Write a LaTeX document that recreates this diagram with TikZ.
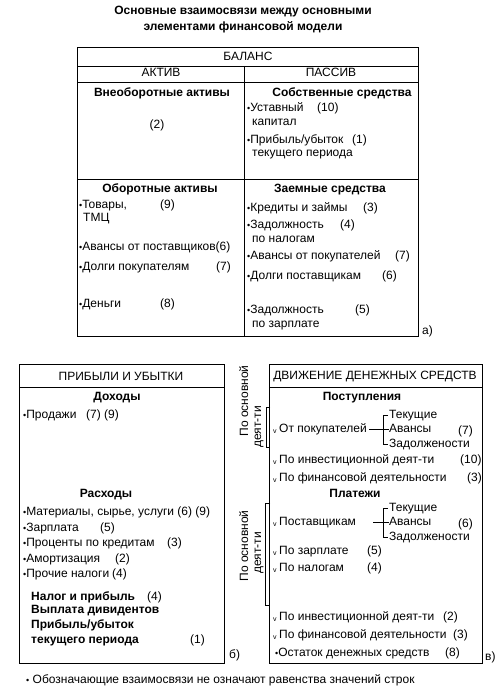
\documentclass[tikz,border=0pt]{standalone}
\usepackage{fontspec}
\setmainfont{Liberation Sans}
\newcommand\bodysize{\fontsize{12}{14}\selectfont}
\newcommand\bul{{\small•}}
\begin{document}
\begin{tikzpicture}[x=1pt,y=-1pt,
  box/.style={draw=black, line width=0.9pt},
  sep/.style={draw=black, line width=0.8pt},
  t/.style={anchor=west, inner sep=0pt, font=\bodysize, text height=8.5pt, text depth=2.5pt},
  tc/.style={t, anchor=center},
  hb/.style={tc, font=\bodysize\bfseries},
  tb/.style={t, font=\bodysize\bfseries},
  ck/.style={t, font=\scriptsize},
  num/.style={t, text height=8pt, text depth=1pt},
  rot/.style={tc, rotate=90},
  br/.style={draw=black, line width=0.6pt}]
\useasboundingbox (0,0) rectangle (500,693);
% title
\node[hb] (title1) at (243,12) {Основные взаимосвязи между основными};
\node[hb] (title2) at (243,28) {элементами финансовой модели};
% ---------- balance ----------
\draw[box] (77,47) rectangle (418,336);
\draw[sep] (77,66) -- (418,66);
\draw[sep] (77,82) -- (418,82);
\draw[sep] (244,66) -- (244,336);
\draw[sep] (77,179) -- (418,179);
\node[tc] (bal) at (248,57) {БАЛАНС};
\node[tc] (akt) at (161,74) {АКТИВ};
\node[tc] (pas) at (331,74) {ПАССИВ};
\node[hb] (vne) at (162,93) {Внеоборотные активы};
\node[tc] (vneN) at (157,125) {(2)};
\node[hb] (sob) at (342,93) {Собственные средства};
\node[t] (ust) at (247,108) {\bul Уставный};
\node[t] (ustN) at (317,108) {(10)};
\node[t] (ust2) at (252,122) {капитал};
\node[t] (pri) at (247,140) {\bul Прибыль/убыток};
\node[t] (priN) at (352,140) {(1)};
\node[t] (pri2) at (252,153) {текущего периода};
\node[hb] (obo) at (160,189) {Оборотные активы};
\node[t] (tov) at (79,205) {\bul Товары,};
\node[t] (tovN) at (160,205) {(9)};
\node[t] (tov2) at (83,218) {ТМЦ};
\node[t] (avp) at (79,247) {\bul Авансы от поставщиков(6)};
\node[t] (dpk) at (79,267) {\bul Долги покупателям};
\node[t] (dpkN) at (216,267) {(7)};
\node[t] (den) at (79,304) {\bul Деньги};
\node[t] (denN) at (160,304) {(8)};
\node[hb] (zae) at (330,189) {Заемные средства};
\node[t] (kre) at (247,208) {\bul Кредиты и займы};
\node[t] (kreN) at (363,208) {(3)};
\node[t] (zn) at (247,225) {\bul Задолжность};
\node[t] (znN) at (340,225) {(4)};
\node[t] (zn2) at (252,239) {по налогам};
\node[t] (apk) at (247,256) {\bul Авансы от покупателей};
\node[t] (apkN) at (395,256) {(7)};
\node[t] (dps) at (247,276) {\bul Долги поставщикам};
\node[t] (dpsN) at (382,276) {(6)};
\node[t] (zz) at (247,310) {\bul Задолжность};
\node[t] (zzN) at (355,310) {(5)};
\node[t] (zz2) at (252,324) {по зарплате};
\node[t] (labA) at (422,331) {а)};
% ---------- P&L ----------
\draw[box] (19,364) rectangle (224,663);
\draw[sep] (19,387) -- (224,387);
\node[tc] (pl) at (121,377) {ПРИБЫЛИ И УБЫТКИ};
\node[hb] (doh) at (117,397) {Доходы};
\node[t] (prod) at (23,415) {\bul Продажи};
\node[t] (prodN) at (86,415) {(7) (9)};
\node[hb] (ras) at (106,494) {Расходы};
\node[t] (mat) at (23,512) {\bul Материалы, сырье, услуги (6) (9)};
\node[t] (zar) at (23,528) {\bul Зарплата};
\node[t] (zarN) at (100,528) {(5)};
\node[t] (pro) at (23,543) {\bul Проценты по кредитам};
\node[t] (proN) at (167,543) {(3)};
\node[t] (amo) at (23,559) {\bul Амортизация};
\node[t] (amoN) at (115,559) {(2)};
\node[t] (pna) at (23,574) {\bul Прочие налоги};
\node[t] (pnaN) at (112,574) {(4)};
\node[tb] (nal) at (31,597) {Налог и прибыль};
\node[t] (nalN) at (147,597) {(4)};
\node[tb] (div) at (31,610) {Выплата дивидентов};
\node[tb] (pu) at (31,625) {Прибыль/убыток};
\node[tb] (pu2) at (31,640) {текущего периода};
\node[t] (puN) at (190,640) {(1)};
\node[t] (labB) at (229,655) {б)};
% ---------- cash flow ----------
\draw[box] (269,364) rectangle (482,663);
\draw[sep] (269,387) -- (482,387);
\node[tc] (cf) at (375,376) {ДВИЖЕНИЕ ДЕНЕЖНЫХ СРЕДСТВ};
\node[hb] (post) at (362,397) {Поступления};
\node[ck] (v1) at (273,430) {v};
\node[t] (pok) at (279,429) {От покупателей};
\node[t] (tek1) at (389,415) {Текущие};
\node[t] (av1) at (389,429) {Авансы};
\node[t] (zd1) at (389,444) {Задолжености};
\node[num] (n7) at (458,431) {(7)};
\node[ck] (v2) at (273,461) {v};
\node[t] (inv1) at (279,460) {По инвестиционной деят-ти};
\node[t] (inv1N) at (460,460) {(10)};
\node[ck] (v3) at (273,479) {v};
\node[t] (fin1) at (279,478) {По финансовой деятельности};
\node[t] (fin1N) at (467,478) {(3)};
\node[hb] (plat) at (355,494) {Платежи};
\node[ck] (v4) at (273,523) {v};
\node[t] (pst) at (279,522) {Поставщикам};
\node[t] (tek2) at (389,508) {Текущие};
\node[t] (av2) at (389,522) {Авансы};
\node[t] (zd2) at (389,537) {Задолжености};
\node[num] (n6) at (458,524) {(6)};
\node[ck] (v5) at (273,552) {v};
\node[t] (pz) at (279,551) {По зарплате};
\node[t] (pzN) at (367,551) {(5)};
\node[ck] (v6) at (273,569) {v};
\node[t] (pn) at (279,568) {По налогам};
\node[t] (pnN) at (367,568) {(4)};
\node[ck] (v7) at (273,618) {v};
\node[t] (inv2) at (279,617) {По инвестиционной деят-ти};
\node[t] (inv2N) at (443,617) {(2)};
\node[ck] (v8) at (273,636) {v};
\node[t] (fin2) at (279,635) {По финансовой деятельности};
\node[t] (fin2N) at (453,635) {(3)};
\node[t] (ost) at (275,653) {\bul Остаток денежных средств};
\node[t] (ostN) at (445,653) {(8)};
\node[t] (labC) at (485,657) {в)};
% branch connectors
\coordinate (j2s) at (373,522);
\draw[br] ([xshift=2pt]pok.east) -- (av1.west);
\draw[br] ([xshift=-1pt]tek1.west) -- ++(-5,0) |- ([xshift=-1pt]zd1.west);
\draw[br] (j2s) -- (av2.west);
\draw[br] ([xshift=-1pt]tek2.west) -- ++(-5,0) |- ([xshift=-1pt]zd2.west);
% left brackets
\coordinate (b1t) at (270,407);
\coordinate (b1b) at (270,447);
\coordinate (b2t) at (270,503);
\coordinate (b2b) at (270,605);
\draw[br] (b1t) -- ++(-4,0) |- (b1b);
\draw[br] (b2t) -- ++(-5,0) |- (b2b);
\node[rot] (os1) at (245,401) {По основной};
\node[rot] (dt1) at (258,427) {деят-ти};
\node[rot] (os2) at (245,546) {По основной};
\node[rot] (dt2) at (258,553) {деят-ти};
% footnote
\node[t] (foot) at (26,680) {\bul\ Обозначающие взаимосвязи не означают равенства значений строк};
\end{tikzpicture}
\end{document}
